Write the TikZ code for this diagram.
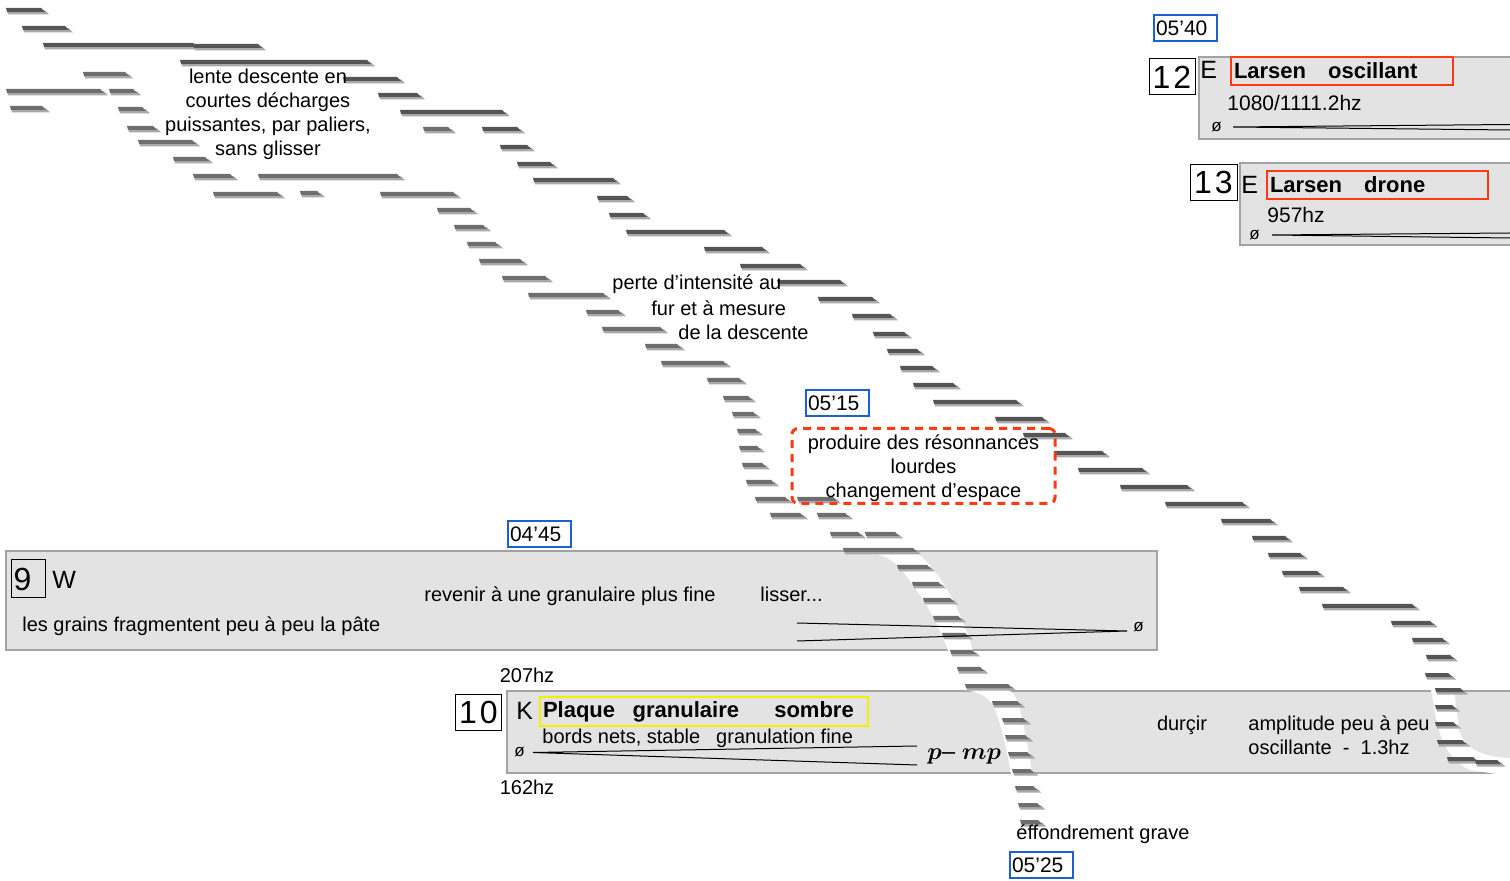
\documentclass[tikz,border=0pt]{standalone}
\usepackage{amsmath}
\usepackage{fontspec}
\setmainfont{Liberation Sans}
\usepackage{xcolor}
\usetikzlibrary{positioning,calc}
\definecolor{panelgray}{HTML}{E3E3E3}
\definecolor{panelline}{HTML}{A3A3A3}
\definecolor{timeblue}{HTML}{1F5FD6}
\definecolor{cuered}{HTML}{FF3A14}
\definecolor{cueyellow}{HTML}{F2F000}
\definecolor{graindark}{HTML}{555555}
\definecolor{grainlight}{HTML}{A8A8A8}

\begin{document}
\begin{tikzpicture}[x=0.5pt,y=-0.5pt,
    panel/.style={fill=panelgray,draw=panelline,line width=1pt},
    edge/.style={draw=panelline,line width=1pt},
    timebox/.style={draw=timeblue,line width=1pt,fill=white,anchor=west,inner xsep=1pt,inner ysep=0pt,
        text width=29.5pt,minimum height=13pt,align=left,font=\fontsize{10.5}{12}\selectfont},
    numbox/.style={draw=black,line width=0.5pt,fill=white,inner sep=0pt,minimum width=23pt,
        minimum height=18pt,font=\fontsize{16}{18}\selectfont},
    cuebox/.style={draw=cuered,line width=1pt,anchor=west,inner xsep=1.5pt,inner ysep=0pt,
        minimum height=14pt,align=left,font=\fontsize{11}{13}\selectfont\bfseries},
    txt/.style={inner sep=0pt,font=\fontsize{10}{12}\selectfont},
    letter/.style={inner sep=0pt,anchor=west,font=\fontsize{12.5}{14}\selectfont},
    small/.style={inner sep=0pt,font=\fontsize{8.5}{9}\selectfont},
    hairpin/.style={line width=0.5pt,black}
]
\useasboundingbox (0,0) rectangle (1510,881);

% Panels
\draw[panel] (6,551) rectangle (1157,650);
\fill[panelgray] (507,691) rectangle (1510,773);
\draw[edge] (1510,691) -- (507,691) -- (507,773) -- (1510,773);
\fill[panelgray] (1199,57) rectangle (1510,139);
\draw[edge] (1510,57) -- (1199,57) -- (1199,139) -- (1510,139);
\fill[panelgray] (1240,163) rectangle (1510,245);
\draw[edge] (1510,163) -- (1240,163) -- (1240,245) -- (1510,245);

% White channels cut through the panels
\fill[white] (846,550) .. controls (872,550) and (889,556) .. (900,568)
    .. controls (918,590) and (938,620) .. (948,651) -- (973,651)
    .. controls (962,615) and (945,575) .. (914,550) -- cycle;
\fill[white] (964,690) .. controls (980,692) and (988,697) .. (993,705)
    .. controls (1000,720) and (1006,745) .. (1011,774) -- (1032,774)
    .. controls (1027,740) and (1022,715) .. (1017,700)
    .. controls (1014,694) and (1011,691) .. (1008,690) -- cycle;
\fill[white] (1431,690) .. controls (1437,720) and (1438,755) .. (1470,770)
    -- (1510,776) -- (1510,758) .. controls (1485,757) and (1464,750) .. (1459,730)
    -- (1454,690) -- cycle;

% Grain stream, upper
\foreach \xa/\xb/\yy in {6/41/8, 22/65/26, 43/193/43, 193/258/44, 180/367/60, 343/397/77, 378/417/93,
    400/502/110, 482/517/127, 500/527/145, 517/550/162, 533/613/178, 597/627/196, 609/643/213,
    626/724/230, 704/762/247, 740/800/264, 777/840/280, 818/872/297, 852/890/314, 873/904/332,
    887/917/349, 900/932/366, 913/953/383, 933/1016/400, 995/1042/417, 1023/1065/433, 1054/1102/451,
    1078/1142/468, 1120/1187/485, 1165/1242/502, 1221/1270/519, 1252/1285/536, 1268/1300/553,
    1282/1317/571, 1299/1343/587, 1322/1412/604, 1391/1430/621, 1412/1442/638, 1426/1450/655,
    1425/1448/673, 1435/1460/688, 1435/1452/705, 1435/1453/722, 1437/1462/740, 1447/1473/757,
    1475/1497/760} {
    \fill[grainlight] (\xa+1,\yy+2.5) -- (\xb+4,\yy+2.5) -- (\xb+8,\yy+6.5) -- (\xa+2,\yy+6.5) -- cycle;
    \fill[graindark] (\xa,\yy) -- (\xb,\yy) -- (\xb+4,\yy+4) -- (\xa+1,\yy+4) -- cycle;
}

% Grain stream, lower
\foreach \xa/\xb/\yy in {83/125/72, 6/100/89, 109/133/89, 10/42/106, 118/142/107, 127/153/126,
    423/448/127, 138/192/140, 173/205/157, 193/230/174, 258/397/174, 213/277/192, 300/317/191,
    380/453/192, 437/470/208, 454/483/225, 467/495/242, 479/520/259, 502/545/276, 528/603/293,
    586/618/310, 602/660/327, 645/677/344, 661/723/361, 707/739/378, 723/748/396, 732/753/412,
    737/755/429, 739/757/446, 742/762/463, 746/771/480, 755/785/497, 797/833/497, 770/800/513,
    817/845/513, 830/858/532, 865/895/532, 843/913/548, 897/927/565, 912/938/582, 923/950/598,
    933/958/616, 942/965/633, 950/972/650, 957/980/667, 965/1008/684, 992/1017/701, 1002/1023/718,
    1005/1025/735, 1008/1027/752, 1012/1030/769, 1015/1033/786, 1018/1037/803, 1020/1038/820} {
    \fill[grainlight] (\xa+1,\yy+2.5) -- (\xb+4,\yy+2.5) -- (\xb+8,\yy+6.5) -- (\xa+2,\yy+6.5) -- cycle;
    \fill[graindark!85] (\xa,\yy) -- (\xb,\yy) -- (\xb+4,\yy+4) -- (\xa+1,\yy+4) -- cycle;
}

% Annotations along the streams
\node[txt,align=center] (descente) at (268,114)
    {lente descente en\\courtes décharges\\puissantes, par paliers,\\sans glisser};
\node[txt,anchor=west] (perteA) at (612,284) {perte d'intensité au};
\node[txt,anchor=west] (perteB) at (651,308) {fur et à mesure};
\node[txt,anchor=west] (perteC) at (678,332) {de la descente};
\node[txt,align=center,text depth=0pt,draw=cuered,line width=1.5pt,dash pattern=on 4pt off 3pt,
    rounded corners=3pt,minimum width=131.5pt,minimum height=37.5pt] (espace) at (923.5,466)
    {produire des résonnances\\lourdes\\changement d'espace};
\node[txt,anchor=west] (effondre) at (1016,834) {éffondrement grave};

% Time marks
\node[timebox] (t0540) at (1153,28.5) {05'40};
\node[timebox] (t0515) at (805,403.5) {05'15};
\node[timebox] (t0445) at (507,534) {04'45};
\node[timebox] (t0525) at (1009,865) {05'25};

% Section 9
\node[numbox,fill=panelgray,minimum width=16.5pt,minimum height=19pt,text width=15pt,align=left,
    inner xsep=1pt] (n9) at (28.5,579) {9};
\node[letter] (w9) at (52,580) {W};
\node[txt] (revenir) at (570,596) {revenir à une granulaire plus fine};
\node[txt,anchor=west] (lisser) at (760,594) {lisser...};
\node[txt,anchor=west] (grains) at (22,626) {les grains fragmentent peu à peu la pâte};
\node[small,anchor=west] (zero9) at (1133,627) {ø};
\draw[hairpin] (797,623) -- (1127,631) -- (797,641);

% Section 10
\node[numbox] (n10) at (478.5,712) {1\kern1.5pt 0};
\node[letter] (k10) at (516,711) {K};
\node[cuebox,draw=cueyellow,text width=161pt,minimum height=14.5pt] (plaque) at (539,711.5)
    {Plaque\hspace{0.8em}granulaire\hspace{1.6em}sombre};
\node[txt,anchor=west] (bords) at (542,738) {bords nets, stable\hspace{0.8em}granulation fine};
\node[small,anchor=west] (zero10) at (514,752) {ø};
\draw[hairpin] (917,746) -- (533,752.5) -- (917,765);
\node[inner sep=0pt,anchor=west,font=\fontsize{12}{13}\selectfont] (dyn10) at (927,756)
    {$\boldsymbol{p}$-- $\boldsymbol{mp}$};
\node[txt] (durcir) at (1182,725) {durçir};
\node[txt,anchor=west,align=left] (ampli) at (1248,735) {amplitude peu à peu\\oscillante \ - \ 1.3hz};
\node[txt] (hz207) at (527,675) {207hz};
\node[txt] (hz162) at (527,787) {162hz};

% Section 12
\node[numbox] (n12) at (1172,77) {1\kern1.5pt 2};
\node[letter] (e12) at (1200,70) {E};
\node[cuebox,text width=108pt] (larsenA) at (1230,71) {Larsen\hspace{1em}oscillant};
\node[inner sep=0pt,font=\fontsize{10.5}{12}\selectfont,anchor=west] (hz12) at (1227,103) {1080/1111.2hz};
\node[small,anchor=west] (zero12) at (1211,127) {ø};
\draw[hairpin] (1510,124.5) -- (1233,127) -- (1510,130);

% Section 13
\node[numbox,minimum width=23.5pt] (n13) at (1213.5,182.5) {1\kern1.5pt 3};
\node[letter] (e13) at (1241,185) {E};
\node[cuebox,text width=107.5pt] (larsenB) at (1266,185) {Larsen\hspace{1em}drone};
\node[inner sep=0pt,font=\fontsize{10.5}{12}\selectfont,anchor=west] (hz13) at (1267,215) {957hz};
\node[small,anchor=west] (zero13) at (1249,235) {ø};
\draw[hairpin] (1510,233) -- (1272,235) -- (1510,238);
\end{tikzpicture}
\end{document}
